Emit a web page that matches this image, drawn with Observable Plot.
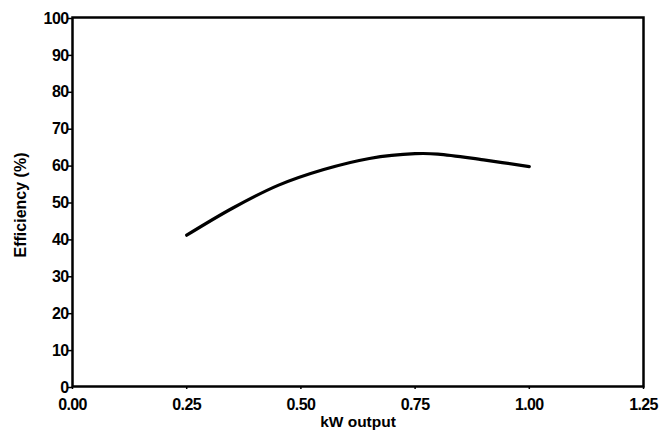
<!DOCTYPE html>
<html>
<head>
<meta charset="utf-8">
<script src="https://cdn.jsdelivr.net/npm/d3@7"></script>
<script src="https://cdn.jsdelivr.net/npm/@observablehq/plot@0.6"></script>
<style>
  html, body { margin: 0; padding: 0; background: #fff; }
  svg { display: block; }
</style>
</head>
<body>
<div id="chart"></div>
<script>
const kwOutput = [0.25, 0.35, 0.45, 0.55, 0.65, 0.75, 0.80, 0.90, 1.00];
const efficiency = [41.0, 48.3, 54.5, 58.8, 61.8, 63.1, 63.0, 61.4, 59.6];
const xTicks = [0, 0.25, 0.5, 0.75, 1.0, 1.25];
const yTicks = [0, 10, 20, 30, 40, 50, 60, 70, 80, 90, 100];

const data = kwOutput.map((x, i) => ({x, y: efficiency[i]}));

const chart = Plot.plot({
  width: 664,
  height: 435,
  marginLeft: 72,
  marginRight: 21,
  marginTop: 17,
  marginBottom: 49,
  style: {fontFamily: "'Liberation Sans', Arial, sans-serif", fontSize: "16px", fontWeight: "bold", color: "#000", background: "#fff", letterSpacing: "-0.6px"},
  x: {domain: [0, 1.25], ticks: xTicks, tickFormat: d => d.toFixed(2), label: null},
  y: {domain: [0, 100], ticks: yTicks, label: null},
  marks: [
    Plot.frame({stroke: "#000", strokeWidth: 2.5}),
    Plot.axisX({ticks: xTicks, tickFormat: d => d.toFixed(2), tickSize: 3, tickPadding: 9, strokeWidth: 1.5, fontSize: 16, fontWeight: "bold", label: null}),
    Plot.axisY({ticks: yTicks, tickSize: 4, tickPadding: 0, dy: 1, strokeWidth: 1.5, fontSize: 16, fontWeight: "bold", label: null}),
    Plot.line(data, {x: "x", y: "y", stroke: "#000", strokeWidth: 3.2, curve: "catmull-rom"}),
    Plot.text(["kW output"], {frameAnchor: "bottom", dy: 40, fontSize: 15.5, fontWeight: "bold", style: {letterSpacing: "0px"}}),
    Plot.text(["Efficiency (%)"], {frameAnchor: "left", textAnchor: "middle", dx: -52, dy: 3, rotate: -90, fontSize: 16, fontWeight: "bold"})
  ]
});
chart.querySelectorAll("text").forEach(t => {
  if (t.textContent === "kW output" || t.textContent === "Efficiency (%)") t.style.letterSpacing = "0px";
});
document.getElementById("chart").appendChild(chart);
</script>
</body>
</html>
